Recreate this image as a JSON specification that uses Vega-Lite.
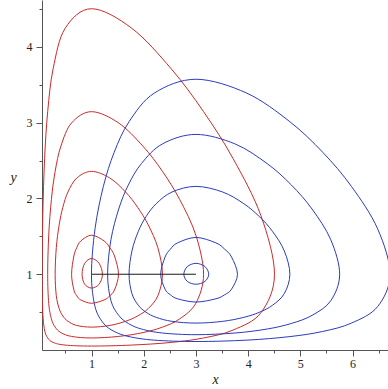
{
  "$schema": "https://vega.github.io/schema/vega-lite/v6.json",
  "autosize": {"type": "none"},
  "padding": {"left": 42, "top": 0, "right": 0, "bottom": 39},
  "width": 346,
  "height": 350,
  "background": "white",
  "config": {"view": {"stroke": null}},
  "datasets": {
    "curves": [
      {"c":"R5","f":"r","o":0,"x":1,"y":4.505},{"c":"R5","f":"r","o":1,"x":1.772,"y":4.246},{"c":"R5","f":"r","o":2,"x":2.527,"y":3.711},{"c":"R5","f":"r","o":3,"x":3.146,"y":3.146},{"c":"R5","f":"r","o":4,"x":3.711,"y":2.527},{"c":"R5","f":"r","o":5,"x":4.246,"y":1.772},{"c":"R5","f":"r","o":6,"x":4.505,"y":1},{"c":"R5","f":"r","o":7,"x":4.246,"y":0.493},{"c":"R5","f":"r","o":8,"x":3.711,"y":0.263},{"c":"R5","f":"r","o":9,"x":3.146,"y":0.159},{"c":"R5","f":"r","o":10,"x":2.527,"y":0.1},{"c":"R5","f":"r","o":11,"x":1.772,"y":0.065},{"c":"R5","f":"r","o":12,"x":1,"y":0.052},{"c":"R5","f":"r","o":13,"x":0.493,"y":0.065},{"c":"R5","f":"r","o":14,"x":0.263,"y":0.1},{"c":"R5","f":"r","o":15,"x":0.159,"y":0.159},{"c":"R5","f":"r","o":16,"x":0.1,"y":0.263},{"c":"R5","f":"r","o":17,"x":0.065,"y":0.493},{"c":"R5","f":"r","o":18,"x":0.052,"y":1},{"c":"R5","f":"r","o":19,"x":0.065,"y":1.772},{"c":"R5","f":"r","o":20,"x":0.1,"y":2.527},{"c":"R5","f":"r","o":21,"x":0.159,"y":3.146},{"c":"R5","f":"r","o":22,"x":0.263,"y":3.711},{"c":"R5","f":"r","o":23,"x":0.493,"y":4.246},
      {"c":"R4","f":"r","o":0,"x":1,"y":3.146},{"c":"R4","f":"r","o":1,"x":1.516,"y":2.998},{"c":"R4","f":"r","o":2,"x":1.986,"y":2.689},{"c":"R4","f":"r","o":3,"x":2.358,"y":2.358},{"c":"R4","f":"r","o":4,"x":2.689,"y":1.986},{"c":"R4","f":"r","o":5,"x":2.998,"y":1.516},{"c":"R4","f":"r","o":6,"x":3.146,"y":1},{"c":"R4","f":"r","o":7,"x":2.998,"y":0.617},{"c":"R4","f":"r","o":8,"x":2.689,"y":0.411},{"c":"R4","f":"r","o":9,"x":2.358,"y":0.302},{"c":"R4","f":"r","o":10,"x":1.986,"y":0.23},{"c":"R4","f":"r","o":11,"x":1.516,"y":0.179},{"c":"R4","f":"r","o":12,"x":1,"y":0.159},{"c":"R4","f":"r","o":13,"x":0.617,"y":0.179},{"c":"R4","f":"r","o":14,"x":0.411,"y":0.23},{"c":"R4","f":"r","o":15,"x":0.302,"y":0.302},{"c":"R4","f":"r","o":16,"x":0.23,"y":0.411},{"c":"R4","f":"r","o":17,"x":0.179,"y":0.617},{"c":"R4","f":"r","o":18,"x":0.159,"y":1},{"c":"R4","f":"r","o":19,"x":0.179,"y":1.516},{"c":"R4","f":"r","o":20,"x":0.23,"y":1.986},{"c":"R4","f":"r","o":21,"x":0.302,"y":2.358},{"c":"R4","f":"r","o":22,"x":0.411,"y":2.689},{"c":"R4","f":"r","o":23,"x":0.617,"y":2.998},
      {"c":"R3","f":"r","o":0,"x":1,"y":2.358},{"c":"R3","f":"r","o":1,"x":1.35,"y":2.27},{"c":"R3","f":"r","o":2,"x":1.652,"y":2.085},{"c":"R3","f":"r","o":3,"x":1.883,"y":1.883},{"c":"R3","f":"r","o":4,"x":2.085,"y":1.652},{"c":"R3","f":"r","o":5,"x":2.27,"y":1.35},{"c":"R3","f":"r","o":6,"x":2.358,"y":1},{"c":"R3","f":"r","o":7,"x":2.27,"y":0.716},{"c":"R3","f":"r","o":8,"x":2.085,"y":0.547},{"c":"R3","f":"r","o":9,"x":1.883,"y":0.449},{"c":"R3","f":"r","o":10,"x":1.652,"y":0.379},{"c":"R3","f":"r","o":11,"x":1.35,"y":0.324},{"c":"R3","f":"r","o":12,"x":1,"y":0.302},{"c":"R3","f":"r","o":13,"x":0.716,"y":0.324},{"c":"R3","f":"r","o":14,"x":0.547,"y":0.379},{"c":"R3","f":"r","o":15,"x":0.449,"y":0.449},{"c":"R3","f":"r","o":16,"x":0.379,"y":0.547},{"c":"R3","f":"r","o":17,"x":0.324,"y":0.716},{"c":"R3","f":"r","o":18,"x":0.302,"y":1},{"c":"R3","f":"r","o":19,"x":0.324,"y":1.35},{"c":"R3","f":"r","o":20,"x":0.379,"y":1.652},{"c":"R3","f":"r","o":21,"x":0.449,"y":1.883},{"c":"R3","f":"r","o":22,"x":0.547,"y":2.085},{"c":"R3","f":"r","o":23,"x":0.716,"y":2.27},
      {"c":"R2","f":"r","o":0,"x":1,"y":1.516},{"c":"R2","f":"r","o":1,"x":1.241,"y":1.439},{"c":"R2","f":"r","o":2,"x":1.35,"y":1.35},{"c":"R2","f":"r","o":3,"x":1.439,"y":1.241},{"c":"R2","f":"r","o":4,"x":1.516,"y":1},{"c":"R2","f":"r","o":5,"x":1.439,"y":0.793},{"c":"R2","f":"r","o":6,"x":1.35,"y":0.716},{"c":"R2","f":"r","o":7,"x":1.241,"y":0.661},{"c":"R2","f":"r","o":8,"x":1,"y":0.617},{"c":"R2","f":"r","o":9,"x":0.793,"y":0.661},{"c":"R2","f":"r","o":10,"x":0.716,"y":0.716},{"c":"R2","f":"r","o":11,"x":0.661,"y":0.793},{"c":"R2","f":"r","o":12,"x":0.617,"y":1},{"c":"R2","f":"r","o":13,"x":0.661,"y":1.241},{"c":"R2","f":"r","o":14,"x":0.716,"y":1.35},{"c":"R2","f":"r","o":15,"x":0.793,"y":1.439},
      {"c":"R1","f":"r","o":0,"x":1,"y":1.208},{"c":"R1","f":"r","o":1,"x":1.144,"y":1.144},{"c":"R1","f":"r","o":2,"x":1.208,"y":1},{"c":"R1","f":"r","o":3,"x":1.144,"y":0.868},{"c":"R1","f":"r","o":4,"x":1,"y":0.818},{"c":"R1","f":"r","o":5,"x":0.868,"y":0.868},{"c":"R1","f":"r","o":6,"x":0.818,"y":1},{"c":"R1","f":"r","o":7,"x":0.868,"y":1.144},
      {"c":"B1","f":"b","o":0,"x":3,"y":3.574},{"c":"B1","f":"b","o":1,"x":3.972,"y":3.391},{"c":"B1","f":"b","o":2,"x":4.8,"y":3.013},{"c":"B1","f":"b","o":3,"x":5.43,"y":2.609},{"c":"B1","f":"b","o":4,"x":5.979,"y":2.16},{"c":"B1","f":"b","o":5,"x":6.481,"y":1.6},{"c":"B1","f":"b","o":6,"x":6.719,"y":1},{"c":"B1","f":"b","o":7,"x":6.481,"y":0.573},{"c":"B1","f":"b","o":8,"x":5.979,"y":0.355},{"c":"B1","f":"b","o":9,"x":5.43,"y":0.245},{"c":"B1","f":"b","o":10,"x":4.8,"y":0.177},{"c":"B1","f":"b","o":11,"x":3.972,"y":0.13},{"c":"B1","f":"b","o":12,"x":3,"y":0.112},{"c":"B1","f":"b","o":13,"x":2.201,"y":0.13},{"c":"B1","f":"b","o":14,"x":1.718,"y":0.177},{"c":"B1","f":"b","o":15,"x":1.433,"y":0.245},{"c":"B1","f":"b","o":16,"x":1.226,"y":0.355},{"c":"B1","f":"b","o":17,"x":1.066,"y":0.573},{"c":"B1","f":"b","o":18,"x":0.998,"y":1},{"c":"B1","f":"b","o":19,"x":1.066,"y":1.6},{"c":"B1","f":"b","o":20,"x":1.226,"y":2.16},{"c":"B1","f":"b","o":21,"x":1.433,"y":2.609},{"c":"B1","f":"b","o":22,"x":1.718,"y":3.013},{"c":"B1","f":"b","o":23,"x":2.201,"y":3.391},
      {"c":"B2","f":"b","o":0,"x":3,"y":2.846},{"c":"B2","f":"b","o":1,"x":3.747,"y":2.721},{"c":"B2","f":"b","o":2,"x":4.365,"y":2.46},{"c":"B2","f":"b","o":3,"x":4.827,"y":2.179},{"c":"B2","f":"b","o":4,"x":5.224,"y":1.861},{"c":"B2","f":"b","o":5,"x":5.584,"y":1.455},{"c":"B2","f":"b","o":6,"x":5.754,"y":1},{"c":"B2","f":"b","o":7,"x":5.584,"y":0.651},{"c":"B2","f":"b","o":8,"x":5.224,"y":0.457},{"c":"B2","f":"b","o":9,"x":4.827,"y":0.35},{"c":"B2","f":"b","o":10,"x":4.365,"y":0.277},{"c":"B2","f":"b","o":11,"x":3.747,"y":0.224},{"c":"B2","f":"b","o":12,"x":3,"y":0.202},{"c":"B2","f":"b","o":13,"x":2.359,"y":0.224},{"c":"B2","f":"b","o":14,"x":1.954,"y":0.277},{"c":"B2","f":"b","o":15,"x":1.705,"y":0.35},{"c":"B2","f":"b","o":16,"x":1.52,"y":0.457},{"c":"B2","f":"b","o":17,"x":1.371,"y":0.651},{"c":"B2","f":"b","o":18,"x":1.307,"y":1},{"c":"B2","f":"b","o":19,"x":1.371,"y":1.455},{"c":"B2","f":"b","o":20,"x":1.52,"y":1.861},{"c":"B2","f":"b","o":21,"x":1.705,"y":2.179},{"c":"B2","f":"b","o":22,"x":1.954,"y":2.46},{"c":"B2","f":"b","o":23,"x":2.359,"y":2.721},
      {"c":"B3","f":"b","o":0,"x":3,"y":2.16},{"c":"B3","f":"b","o":1,"x":3.51,"y":2.086},{"c":"B3","f":"b","o":2,"x":3.918,"y":1.931},{"c":"B3","f":"b","o":3,"x":4.215,"y":1.761},{"c":"B3","f":"b","o":4,"x":4.468,"y":1.565},{"c":"B3","f":"b","o":5,"x":4.694,"y":1.306},{"c":"B3","f":"b","o":6,"x":4.8,"y":1},{"c":"B3","f":"b","o":7,"x":4.694,"y":0.746},{"c":"B3","f":"b","o":8,"x":4.468,"y":0.591},{"c":"B3","f":"b","o":9,"x":4.215,"y":0.498},{"c":"B3","f":"b","o":10,"x":3.918,"y":0.431},{"c":"B3","f":"b","o":11,"x":3.51,"y":0.378},{"c":"B3","f":"b","o":12,"x":3,"y":0.355},{"c":"B3","f":"b","o":13,"x":2.542,"y":0.378},{"c":"B3","f":"b","o":14,"x":2.238,"y":0.431},{"c":"B3","f":"b","o":15,"x":2.044,"y":0.498},{"c":"B3","f":"b","o":16,"x":1.895,"y":0.591},{"c":"B3","f":"b","o":17,"x":1.773,"y":0.746},{"c":"B3","f":"b","o":18,"x":1.718,"y":1},{"c":"B3","f":"b","o":19,"x":1.773,"y":1.306},{"c":"B3","f":"b","o":20,"x":1.895,"y":1.565},{"c":"B3","f":"b","o":21,"x":2.044,"y":1.761},{"c":"B3","f":"b","o":22,"x":2.238,"y":1.931},{"c":"B3","f":"b","o":23,"x":2.542,"y":2.086},
      {"c":"B4","f":"b","o":0,"x":3,"y":1.486},{"c":"B4","f":"b","o":1,"x":3.383,"y":1.414},{"c":"B4","f":"b","o":2,"x":3.55,"y":1.331},{"c":"B4","f":"b","o":3,"x":3.682,"y":1.227},{"c":"B4","f":"b","o":4,"x":3.796,"y":1},{"c":"B4","f":"b","o":5,"x":3.682,"y":0.803},{"c":"B4","f":"b","o":6,"x":3.55,"y":0.729},{"c":"B4","f":"b","o":7,"x":3.383,"y":0.676},{"c":"B4","f":"b","o":8,"x":3,"y":0.633},{"c":"B4","f":"b","o":9,"x":2.647,"y":0.676},{"c":"B4","f":"b","o":10,"x":2.51,"y":0.729},{"c":"B4","f":"b","o":11,"x":2.408,"y":0.803},{"c":"B4","f":"b","o":12,"x":2.324,"y":1},{"c":"B4","f":"b","o":13,"x":2.408,"y":1.227},{"c":"B4","f":"b","o":14,"x":2.51,"y":1.331},{"c":"B4","f":"b","o":15,"x":2.647,"y":1.414},
      {"c":"B5","f":"b","o":0,"x":3,"y":1.144},{"c":"B5","f":"b","o":1,"x":3.172,"y":1.101},{"c":"B5","f":"b","o":2,"x":3.245,"y":1},{"c":"B5","f":"b","o":3,"x":3.172,"y":0.906},{"c":"B5","f":"b","o":4,"x":3,"y":0.868},{"c":"B5","f":"b","o":5,"x":2.834,"y":0.906},{"c":"B5","f":"b","o":6,"x":2.768,"y":1},{"c":"B5","f":"b","o":7,"x":2.834,"y":1.101}
    ],
    "segment": [{"x": 1, "y": 1}, {"x": 3, "y": 1}]
  },
  "layer": [
    {
      "data": {"name": "curves"},
      "mark": {"type": "line", "interpolate": "cardinal-closed", "strokeWidth": 1, "clip": true},
      "encoding": {
        "x": {"field": "x", "type": "quantitative",
              "scale": {"domain": [0.05, 6.68], "nice": false, "zero": false},
              "axis": {"values": [1, 2, 3, 4, 5, 6], "format": "d", "grid": false, "orient": "bottom",
                       "tickSize": 6, "tickColor": "#555", "domainColor": "#555",
                       "labelPadding": 2, "labelFont": "Liberation Serif", "labelFontSize": 12, "labelColor": "#222",
                       "title": "x", "titleFont": "Liberation Serif", "titleFontStyle": "italic", "titleFontWeight": "normal",
                       "titleFontSize": 14, "titleColor": "#222", "titleY": 33, "titleBaseline": "alphabetic"}},
        "y": {"field": "y", "type": "quantitative",
              "scale": {"domain": [0, 4.62], "nice": false, "zero": false},
              "axis": {"values": [1, 2, 3, 4], "format": "d", "grid": false, "orient": "left",
                       "tickSize": 6, "tickColor": "#555", "domainColor": "#555",
                       "labelPadding": 4, "labelFont": "Liberation Serif", "labelFontSize": 12, "labelColor": "#222",
                       "title": "y", "titleFont": "Liberation Serif", "titleFontStyle": "italic", "titleFontWeight": "normal",
                       "titleFontSize": 14, "titleColor": "#222", "titleAngle": 0, "titleX": -29, "titleY": 181,
                       "titleAlign": "center", "titleBaseline": "alphabetic"}},
        "color": {"field": "f", "type": "nominal", "scale": {"domain": ["r", "b"], "range": ["#cc2a2a", "#2a3cbe"]}, "legend": null},
        "detail": {"field": "c", "type": "nominal"},
        "order": {"field": "o", "type": "quantitative"}
      }
    },
    {
      "data": {"name": "segment"},
      "mark": {"type": "line", "color": "#1a1a1a", "strokeWidth": 1, "clip": true},
      "encoding": {
        "x": {"field": "x", "type": "quantitative",
              "axis": {"values": [0.5, 1.5, 2.5, 3.5, 4.5, 5.5, 6.5], "orient": "bottom", "labels": false, "domain": false,
                       "grid": false, "tickSize": 3, "tickColor": "#555", "title": null}},
        "y": {"field": "y", "type": "quantitative",
              "axis": {"values": [0.5, 1.5, 2.5, 3.5, 4.5], "orient": "left", "labels": false, "domain": false,
                       "grid": false, "tickSize": 3, "tickColor": "#555", "title": null}}
      }
    }
  ],
  "resolve": {"axis": {"x": "independent", "y": "independent"}}
}
